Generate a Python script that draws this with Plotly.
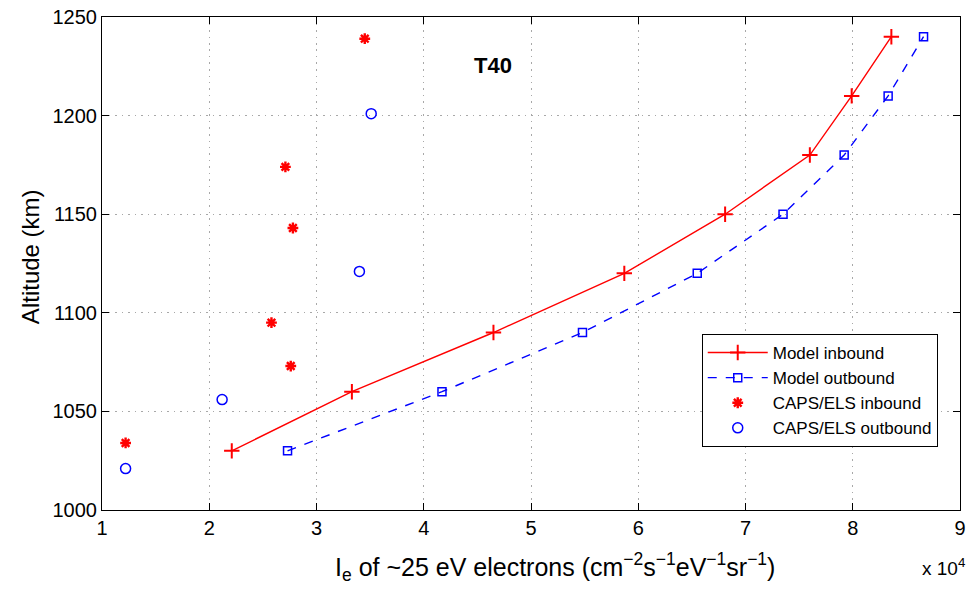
import plotly.graph_objects as go

# Model profiles (altitude km, flux)
model_alt = [1030, 1060, 1090, 1120, 1150, 1180, 1210, 1240]
model_in = [22100, 33300, 46500, 58700, 68100, 76000, 79900, 83600]
model_out = [27300, 41700, 54800, 65500, 73500, 79200, 83300, 86600]

# CAPS/ELS observations
els_in_x = [12200, 25800, 27600, 27800, 27100, 34500]
els_in_alt = [1034, 1095, 1073, 1143, 1174, 1239]
els_out_x = [12200, 21200, 34000, 35100]
els_out_alt = [1021, 1056, 1121, 1201]

xticks = [10000, 20000, 30000, 40000, 50000, 60000, 70000, 80000, 90000]
xticklabels = ["1", "2", "3", "4", "5", "6", "7", "8", "9"]
yticks = [1000, 1050, 1100, 1150, 1200, 1250]

FONT = "Liberation Sans, Arial"

fig = go.Figure()
fig.add_trace(go.Scatter(x=model_in, y=model_alt, mode="lines+markers", name="Model inbound",
                         line=dict(color="red", width=1.4),
                         marker=dict(symbol="cross-thin", size=11, line=dict(color="red", width=2))))
fig.add_trace(go.Scatter(x=model_out, y=model_alt, mode="lines+markers", name="Model outbound",
                         line=dict(color="blue", width=1.4, dash="dash"),
                         marker=dict(symbol="square-open", size=8, color="blue", line=dict(color="blue", width=1.5))))
fig.add_trace(go.Scatter(x=els_in_x, y=els_in_alt, mode="markers", name="CAPS/ELS inbound",
                         marker=dict(symbol="asterisk", size=9, line=dict(color="red", width=2.4))))
fig.add_trace(go.Scatter(x=els_out_x, y=els_out_alt, mode="markers", name="CAPS/ELS outbound",
                         marker=dict(symbol="circle-open", size=10, color="blue", line=dict(color="blue", width=1.5))))

axis_common = dict(showline=True, linecolor="black", linewidth=1, mirror="ticks", ticks="inside",
                   ticklen=7, tickcolor="black", showgrid=True, gridcolor="#a8a8a8", griddash="1.5px,5px",
                   gridwidth=1, zeroline=False, tickfont=dict(family=FONT, size=20, color="black"))

fig.update_xaxes(range=[10000, 90000], tickvals=xticks, ticktext=xticklabels, **axis_common)
fig.update_yaxes(range=[1000, 1250], tickvals=yticks, **axis_common)

fig.add_annotation(xref="paper", yref="paper", x=0.528, y=-0.115,
                   text="I<sub>e</sub> of ~25 eV electrons (cm<sup>−2</sup>s<sup>−1</sup>eV<sup>−1</sup>sr<sup>−1</sup>)",
                   showarrow=False, xanchor="center", yanchor="middle",
                   font=dict(family=FONT, size=25, color="black"))
fig.add_annotation(xref="paper", yref="paper", x=-0.0833, y=0.514, text="Altitude (km)",
                   textangle=-90, showarrow=False, xanchor="center", yanchor="middle",
                   font=dict(family=FONT, size=24, color="black"))
fig.add_annotation(x=46500, y=1225.5, text="<b>T40</b>", showarrow=False,
                   font=dict(family=FONT, size=22, color="black"))
fig.add_annotation(xref="paper", yref="paper", x=1.008, y=-0.115, text="x 10<sup>4</sup>", showarrow=False,
                   xanchor="right", yanchor="middle",
                   font=dict(family=FONT, size=19, color="black"))

fig.update_layout(
    width=972, height=591,
    margin=dict(l=102, r=6, t=14, b=81),
    paper_bgcolor="white", plot_bgcolor="white",
    showlegend=True,
    legend=dict(x=0.699, y=0.357, xanchor="left", yanchor="top", bgcolor="white",
                bordercolor="black", borderwidth=1,
                font=dict(family=FONT, size=17, color="black"),
                tracegroupgap=0, itemwidth=60),
    font=dict(family=FONT),
)

fig.write_html("out.html", config={"displayModeBar": False},
               post_script="document.body.style.margin='0';")
